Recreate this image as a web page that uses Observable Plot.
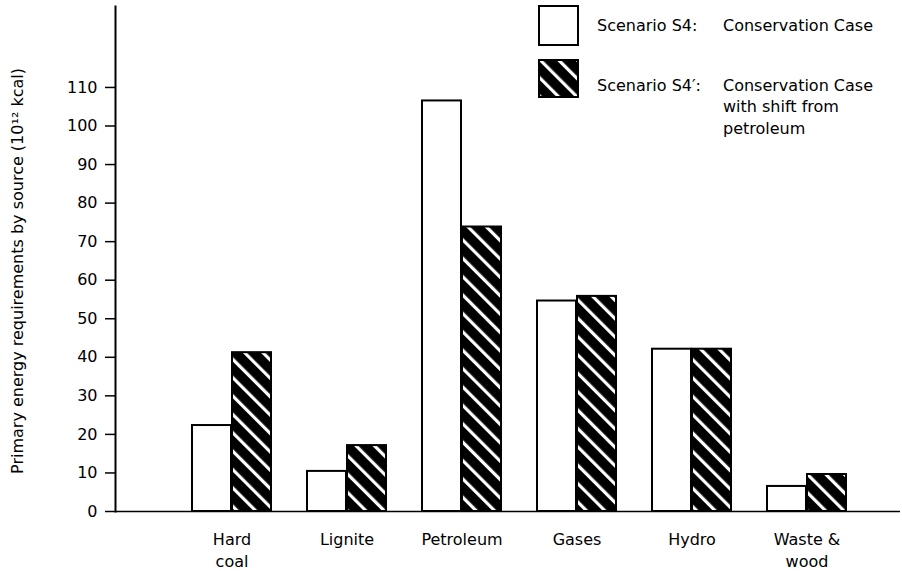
<!DOCTYPE html>
<html>
<head>
<meta charset="utf-8">
<script src="https://cdn.jsdelivr.net/npm/d3@7"></script>
<script src="https://cdn.jsdelivr.net/npm/@observablehq/plot@0.6"></script>
<style>
  body { margin: 0; background: #fff; }
  #chart { position: relative; width: 902px; height: 571px; }
  #chart svg { overflow: visible; }
</style>
</head>
<body>
<div id="chart"></div>
<script>
// ---- data ----
const categories = ["Hard coal", "Lignite", "Petroleum", "Gases", "Hydro", "Waste & wood"];
const tickLabels = ["Hard\ncoal", "Lignite", "Petroleum", "Gases", "Hydro", "Waste &\nwood"];
const scenarioS4 = [22.3, 10.4, 106.5, 54.6, 42.1, 6.5];
const scenarioS4prime = [41.2, 17.1, 73.8, 55.8, 42.1, 9.6];
const yTicks = [0, 10, 20, 30, 40, 50, 60, 70, 80, 90, 100, 110];
const yLabel = "Primary energy requirements by source (10\u00b9\u00b2 kcal)";
const seriesNames = ["Scenario S4:", "Scenario S4\u2032:"];
const seriesDescriptions = [["Conservation Case"], ["Conservation Case", "with shift from", "petroleum"]];

const rowsS4 = categories.map((c, i) => ({category: c, value: scenarioS4[i]}));
const rowsS4p = categories.map((c, i) => ({category: c, value: scenarioS4prime[i]}));
const labelOf = new Map(categories.map((c, i) => [c, tickLabels[i]]));

const FONT = "DejaVu Sans";
const half = 40;

const chart = Plot.plot({
  width: 902,
  height: 571,
  marginLeft: 115,
  marginRight: 2,
  marginTop: 6,
  marginBottom: 60,
  style: {fontFamily: FONT, fontSize: "16px", color: "#000", background: "#fff"},
  x: {domain: categories, range: [189, 849], paddingInner: 0.31, paddingOuter: 0},
  y: {domain: [0, 131]},
  marks: [
    Plot.frame({anchor: "left", stroke: "#000", strokeWidth: 2}),
    Plot.barY(rowsS4, {x: "category", y: "value", fill: "#fff", stroke: "#000", strokeWidth: 2, insetRight: half}),
    Plot.barY(rowsS4p, {x: "category", y: "value", fill: "url(#hatchS4p)", stroke: "#000", strokeWidth: 2, insetLeft: half}),
    Plot.ruleY([0], {stroke: "#000", strokeWidth: 1.5}),
    Plot.axisY({ticks: yTicks, tickSize: 10, tickPadding: 8, label: null, fontSize: 16, stroke: "#000", strokeWidth: 1.5}),
    Plot.axisX({tickSize: 0, tickPadding: 18, label: null, fontSize: 16, lineHeight: 1.375, tickFormat: d => labelOf.get(d)}),
    Plot.text([yLabel], {text: d => d, frameAnchor: "left", textAnchor: "middle", lineAnchor: "middle", rotate: -90, dx: -98, dy: 12, fontSize: 16})
  ]
});

document.getElementById("chart").appendChild(chart);

// hatch pattern + legend
const svg = d3.select(chart);
const defs = svg.insert("defs", ":first-child");
const pat = defs.append("pattern")
  .attr("id", "hatchS4p")
  .attr("patternUnits", "userSpaceOnUse")
  .attr("width", 13).attr("height", 13)
  .attr("patternTransform", "rotate(-45)");
pat.append("rect").attr("width", 13).attr("height", 13).attr("fill", "#000");
pat.append("rect").attr("x", 0).attr("y", 0).attr("width", 3.2).attr("height", 13).attr("fill", "#fff");

const lg = svg.append("g").attr("font-family", FONT).attr("font-size", 16)
  .attr("fill", "#000").attr("text-anchor", "start");
lg.append("rect").attr("x", 539).attr("y", 6).attr("width", 39).attr("height", 39)
  .attr("fill", "#fff").attr("stroke", "#000").attr("stroke-width", 2);
lg.append("rect").attr("x", 539).attr("y", 60).attr("width", 39).attr("height", 37)
  .attr("fill", "url(#hatchS4p)").attr("stroke", "#000").attr("stroke-width", 2);
const rowY = [25, 85];
seriesNames.forEach((name, i) => {
  lg.append("text").attr("x", 597).attr("y", rowY[i]).attr("dy", "0.35em").text(name);
  seriesDescriptions[i].forEach((line, j) => {
    lg.append("text").attr("x", 723).attr("y", rowY[i] + j * 21.5).attr("dy", "0.35em").text(line);
  });
});
</script>
</body>
</html>
